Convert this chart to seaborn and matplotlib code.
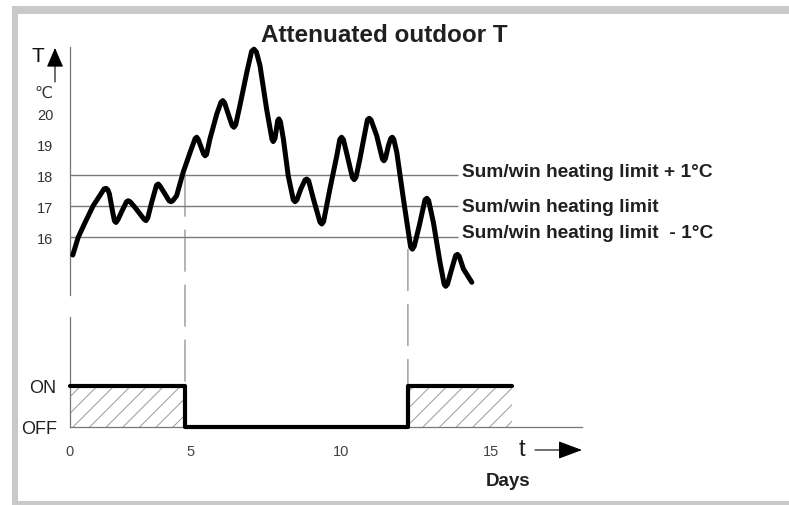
import matplotlib.pyplot as plt
import matplotlib.patches as mpatches
import pandas as pd
import seaborn as sns

# attenuated outdoor temperature (day, degC)
days = [1.06, 1.24, 1.47, 1.74, 1.97, 2.10, 2.17, 2.23, 2.28, 2.39, 2.45, 2.50, 2.56, 2.69,
        2.85, 2.91, 2.97, 3.13, 3.36, 3.44, 3.50, 3.56, 3.69, 3.85, 3.91, 3.97, 4.10,
        4.27, 4.33, 4.39, 4.52, 4.74, 4.97, 5.14, 5.19, 5.24, 5.36, 5.42, 5.47, 5.52,
        5.63, 5.86, 6.00, 6.06, 6.12, 6.24, 6.37, 6.43, 6.49, 6.63, 6.86, 7.02, 7.10, 7.18,
        7.30, 7.52, 7.70, 7.74, 7.80, 7.89, 7.93, 7.98, 8.08, 8.24, 8.41, 8.47, 8.53, 8.66,
        8.80, 8.86, 8.92, 9.08, 9.30, 9.36, 9.42, 9.63, 9.86, 9.96, 10.02, 10.08, 10.21,
        10.38, 10.44, 10.50, 10.63, 10.80, 10.88, 10.94, 11.00, 11.19, 11.38, 11.43, 11.48,
        11.58, 11.66, 11.71, 11.76, 11.86, 12.08, 12.32, 12.38, 12.44, 12.61, 12.80, 12.86,
        12.92, 13.08, 13.30, 13.44, 13.49, 13.55, 13.69, 13.82, 13.88, 13.94, 14.08, 14.36]
temps = [15.42, 15.99, 16.47, 17.01, 17.35, 17.55, 17.57, 17.52, 17.39, 16.80, 16.52, 16.47, 16.55, 16.82,
         17.14, 17.17, 17.14, 16.96, 16.67, 16.57, 16.53, 16.62, 17.12, 17.67, 17.71, 17.64, 17.44,
         17.17, 17.14, 17.17, 17.33, 18.09, 18.73, 19.18, 19.22, 19.15, 18.84, 18.68, 18.62, 18.67,
         19.16, 19.97, 20.35, 20.40, 20.33, 19.97, 19.60, 19.54, 19.62, 20.24, 21.31, 21.99, 22.06, 21.97,
         21.53, 20.13, 19.15, 19.08, 19.18, 19.76, 19.81, 19.72, 19.16, 17.98, 17.20, 17.14, 17.20, 17.55,
         17.84, 17.87, 17.82, 17.23, 16.48, 16.42, 16.50, 17.55, 18.62, 19.15, 19.22, 19.14, 18.62,
         17.92, 17.85, 17.93, 18.52, 19.38, 19.78, 19.83, 19.78, 19.27, 18.52, 18.46, 18.53,
         18.95, 19.18, 19.22, 19.15, 18.73, 17.23, 15.68, 15.61, 15.70, 16.37, 17.20, 17.25,
         17.18, 16.47, 15.18, 14.47, 14.41, 14.48, 14.97, 15.40, 15.44, 15.38, 14.97, 14.54]

limits = [18, 17, 16]
limit_labels = ['Sum/win heating limit + 1°C', 'Sum/win heating limit', 'Sum/win heating limit  - 1°C']
label_y = [18.1, 17.0, 16.15]
y_ticks = [16, 17, 18, 19, 20]

# heating on/off state
switch_days = [0.97, 4.8, 12.23, 15.7]
heating = [1, 0, 1, 1]
state_labels = ['OFF', 'ON']
dash_from = [18.0, 15.6]   # where the dashed switch lines start on the T curve

x_ticks = [0.967, 5, 10, 15]
x_labels = ['0', '5', '10', '15']

sns.set_style('white')
plt.rcParams['font.family'] = ['Liberation Sans', 'DejaVu Sans']
plt.rcParams['hatch.linewidth'] = 0.7

W, H = 789, 506
fig = plt.figure(figsize=(W / 100, H / 100), dpi=100)

# grey frame strips
gray = '#c9c9c9'
fig.add_artist(mpatches.Rectangle((12 / W, 0), 6 / W, (H - 7) / H, color=gray, transform=fig.transFigure, lw=0))
fig.add_artist(mpatches.Rectangle((12 / W, (H - 15) / H), (W - 12) / W, 8 / H, color=gray, transform=fig.transFigure, lw=0))
fig.add_artist(mpatches.Rectangle((12 / W, 0), (W - 12) / W, 4 / H, color=gray, transform=fig.transFigure, lw=0))

xlim = (0.967, 18.033)
ax1 = fig.add_axes([70 / W, (H - 296) / H, 512 / W, 248 / H])
ax2 = fig.add_axes([70 / W, (H - 427.5) / H, 512 / W, 109.5 / H])
for ax in (ax1, ax2):
    ax.set_xlim(*xlim)
    ax.patch.set_alpha(0)
    for s in ['top', 'right']:
        ax.spines[s].set_visible(False)
    ax.spines['left'].set_color('#777777')
    ax.spines['left'].set_linewidth(0.9)

# upper panel: temperature
df = pd.DataFrame({'day': days, 'T': temps})
ax1.hlines(limits, xlim[0], 13.9, color='#7a7a7a', lw=1.0, zorder=1)
sns.lineplot(data=df, x='day', y='T', ax=ax1, color='black', lw=3.6, sort=False,
             estimator=None, zorder=3, clip_on=False, solid_joinstyle='round', solid_capstyle='round')
ax1.set_ylim(14.13, 22.13)
ax1.spines['bottom'].set_visible(False)
ax1.set_xticks([])
ax1.set_yticks(y_ticks)
ax1.tick_params(axis='y', length=8.6, width=0.8, color='#777777', pad=3.5, labelsize=10.5, labelcolor='#333333')
ax1.set_xlabel('')
ax1.set_ylabel('')
for v, lab in zip(label_y, limit_labels):
    ax1.text(14.03, v, lab, fontsize=13.8, fontweight='bold', color='#231f20', va='center', ha='left')

# lower panel: heating on/off
sd = pd.DataFrame({'day': switch_days, 'state': heating})
ax2.fill_between(switch_days, 0, heating, step='post', facecolor='none', edgecolor='#9a9a9a',
                 hatch='//', lw=0, zorder=1)
sns.lineplot(data=sd, x='day', y='state', ax=ax2, color='black', lw=3.0, drawstyle='steps-post',
             estimator=None, zorder=3, clip_on=False)
ax2.set_ylim(0, 2.70)
ax2.spines['bottom'].set_color('#777777')
ax2.spines['bottom'].set_linewidth(0.9)
ax2.set_yticks([0, 1])
ax2.set_yticklabels(state_labels)
ax2.set_xticks(x_ticks)
ax2.set_xticklabels(x_labels)
ax2.tick_params(axis='y', length=8.6, width=0.8, color='#777777', pad=1, labelsize=13, labelcolor='#231f20')
ax2.tick_params(axis='x', length=6.5, width=0.8, color='#777777', pad=6, labelsize=10.5, labelcolor='#444444')
ax2.set_xlabel('')
ax2.set_ylabel('')

# dashed switch lines across both panels
for d, t in zip(switch_days[1:3], dash_from):
    cp = mpatches.ConnectionPatch(xyA=(d, t), coordsA=ax1.transData, xyB=(d, 1), coordsB=ax2.transData,
                                  color='#8a8a8a', lw=0.9, linestyle=(0, (33, 11)), zorder=0)
    fig.add_artist(cp)

# texts and arrows
fig.text(384 / W, 1 - 36 / H, 'Attenuated outdoor T', fontsize=17.5, fontweight='bold', color='#231f20',
         ha='center', va='center')
fig.text(38 / W, 1 - 57 / H, 'T', fontsize=15, color='#111111', ha='center', va='center')
fig.text(43 / W, 1 - 93 / H, '℃', fontsize=11.5, color='#333333', ha='center', va='center')
fig.text(522 / W, 1 - 450 / H, 't', fontsize=17, color='#231f20', ha='center', va='center')
fig.text(508 / W, 1 - 482 / H, 'Days', fontsize=13.5, fontweight='bold', color='#231f20', ha='center', va='center')

ax2.annotate('', xy=(582, H - 451), xytext=(535, H - 451), xycoords='figure pixels', textcoords='figure pixels',
             arrowprops=dict(arrowstyle='-|>,head_length=0.75,head_width=0.28', mutation_scale=20,
                             color='black', lw=0.8, shrinkA=0, shrinkB=0))
ax1.annotate('', xy=(55, H - 49), xytext=(55, H - 83), xycoords='figure pixels', textcoords='figure pixels',
             arrowprops=dict(arrowstyle='-|>,head_length=0.6,head_width=0.26', mutation_scale=20,
                             color='black', lw=0.8, shrinkA=0, shrinkB=0))

fig.savefig('out.png', dpi=100)
